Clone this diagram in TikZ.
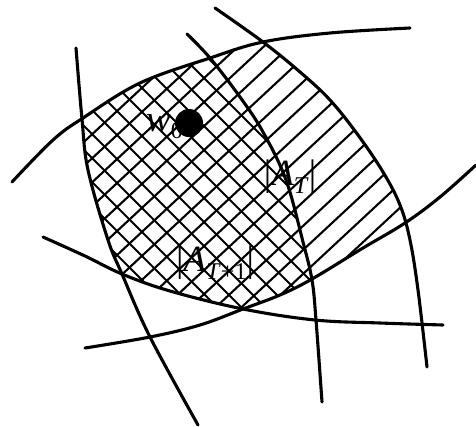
\documentclass[tikz,border=0pt]{standalone}
\usepackage{fontspec}
\setmainfont{Liberation Serif}
\newcommand\subsz{\fontsize{24}{27}\selectfont}
\tikzset{
  curve/.style={line width=3.1pt, line cap=round, line join=round},
  hatch/.style={line width=2.1pt},
  lbl/.style={inner sep=0pt, font=\fontsize{37}{42}\selectfont},
  cA/.style={insert path={plot[smooth,tension=0.6] coordinates {(12,182) (53,140) (83,118) (140,83) (210,58) (263,42) (330,33) (410,28)}}},
  cB/.style={insert path={plot[smooth,tension=0.6] coordinates {(76,48) (82,119) (88,170) (108,240) (122,274) (150,337) (198,425)}}},
  cC/.style={insert path={plot[smooth,tension=0.6] coordinates {(187,34) (210,58) (240,97) (263,132) (286,180) (303,242) (312,280) (316,320) (322,402)}}},
  cD/.style={insert path={plot[smooth,tension=0.6] coordinates {(215,8) (263,42) (300,72) (330,100) (358,135) (383,172) (400,205) (410,240) (418,290) (427,367)}}},
  cE/.style={insert path={plot[smooth,tension=0.6] coordinates {(43,237) (85,256) (122,274) (170,291) (243,309) (315,320) (380,323) (443,325)}}},
  cF/.style={insert path={plot[smooth,tension=0.6] coordinates {(85,348) (150,337) (200,325) (243,309) (280,295) (312,279) (363,248) (405,223) (440,197) (476,165)}}},
}
\begin{document}
\begin{tikzpicture}[x=1pt,y=-1pt]
\useasboundingbox (0,0) rectangle (476,426);
% hatching
\begin{scope}
  \clip[cA] -- (600,28) -- (600,600) -- (-100,600) -- (-100,182) -- cycle;
  \clip[cB] -- (600,425) -- (600,-100) -- (76,-100) -- cycle;
  \clip[cD] -- (427,600) -- (-100,600) -- (-100,-100) -- (215,-100) -- cycle;
  \clip[cE] -- (600,325) -- (600,-100) -- (-100,-100) -- (-100,237) -- cycle;
  \clip[cF] -- (600,165) -- (600,-100) -- (-100,-100) -- (-100,348) -- cycle;
  \foreach \c in {100,124,...,780}
    \draw[hatch] (0,\c) -- (476,\c-443);
  \begin{scope}
    \clip[cC] -- (322,600) -- (-100,600) -- (-100,-100) -- (187,-100) -- cycle;
    \foreach \c in {-390,-366,...,260}
      \draw[hatch] (0,\c) -- (476,\c+476);
  \end{scope}
\end{scope}
% curves
\draw[curve, cA];
\draw[curve, cB];
\draw[curve, cC];
\draw[curve, cD];
\draw[curve, cE];
\draw[curve, cF];
% labels
\node[lbl, anchor=base west] (w) at (146,131) {\textit{w}\raisebox{-0.2em}{\subsz 0}};
\node[circle, fill=black, inner sep=0pt, minimum size=28pt] (dot) at (189,123) {};
\node[lbl] (AT) at (290,177) {|\textit{A}\raisebox{-0.22em}{\subsz\textit{T}}|};
\node[lbl] (AT1) at (215,263) {|\textit{A}\raisebox{-0.22em}{\subsz\textit{T}+1}|};
\end{tikzpicture}
\end{document}
